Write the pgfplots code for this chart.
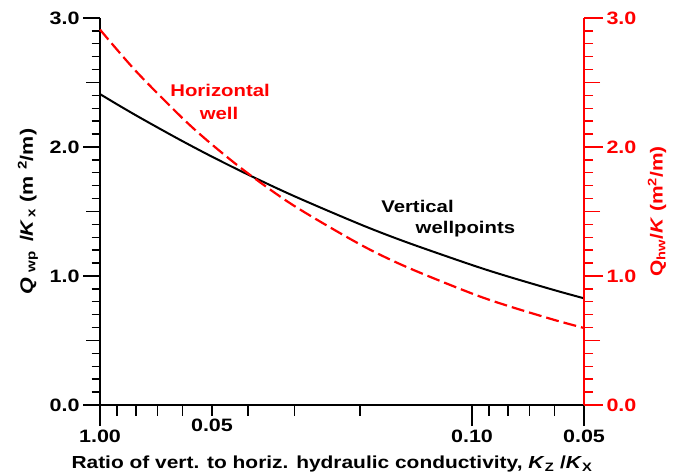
\documentclass[border=0pt]{standalone}
\usepackage{fontspec}
\setmainfont[FakeStretch=1.2]{Liberation Sans}
\usepackage{pgfplots}
\usepackage{pgfplotstable}
\pgfplotsset{compat=1.18}
\definecolor{pureRed}{RGB}{255,0,0}

\pgfplotstableread{
K Q
1.00 2.410
0.90 2.331
0.80 2.245
0.70 2.151
0.60 2.045
0.50 1.925
0.40 1.786
0.30 1.618
0.20 1.401
0.15 1.262
0.10 1.085
0.08 0.996
0.06 0.890
0.05 0.827
}\vertical

\pgfplotstableread{
K Q
1.00 2.910
0.80 2.587
0.60 2.223
0.50 2.019
0.40 1.795
0.30 1.542
0.20 1.245
0.15 1.070
0.10 0.864
0.08 0.768
0.06 0.659
0.05 0.597
}\horizontal

\newcommand{\tickfont}{\fontsize{18}{21}\selectfont\bfseries}
\newcommand{\lblfont}{\fontsize{17.5}{21}\selectfont\bfseries}
\newcommand{\annfont}{\fontsize{17}{20}\selectfont\bfseries}

\begin{document}
\begin{tikzpicture}
\useasboundingbox (-100bp,-70bp) rectangle (575bp,405bp);
% x axis and black curve
\begin{axis}[at={(0,0)}, anchor=south west, scale only axis,
  width=484bp, height=387bp,
  xmode=log, x dir=reverse, xmin=0.05, xmax=1, ymin=0, ymax=3, clip=false,
  tick align=outside, /pgf/number format/assume math mode=true,
  tick label style={font=\tickfont}, label style={font=\lblfont},
  axis line style={line width=1.4bp}, tick style={line width=1.4bp, black},
  axis x line*=bottom, axis y line=none,
  major tick length=21bp, minor tick length=10.6bp,
  xtick={1,0.1,0.05}, xticklabels={1.00,0.10,0.05},
  minor xtick={0.9,0.8,0.7,0.6,0.4,0.3,0.2,0.09,0.08,0.07,0.06},
  extra x ticks={0.5}, extra x tick labels={0.05},
  extra x tick style={major tick length=10.6bp},
  xlabel={Ratio of vert. to horiz. hydraulic conductivity, \textit{K}\textsubscript{Z} /\textit{K}\textsubscript{X}},
  xlabel style={at={(axis description cs:0.5,0)}, anchor=center, yshift=-59bp, xshift=-10bp}]
  \addplot[black, line width=2bp, smooth] table[x=K, y=Q]{\vertical};
  \node[font=\annfont, black] at (axis description cs:0.656,0.514) {Vertical};
  \node[font=\annfont, black] at (axis description cs:0.755,0.455) {wellpoints};
\end{axis}
% left y axis
\begin{axis}[at={(0,0)}, anchor=south west, scale only axis,
  width=484bp, height=387bp,
  xmode=log, x dir=reverse, xmin=0.05, xmax=1, ymin=0, ymax=3, clip=false,
  tick align=outside, /pgf/number format/assume math mode=true,
  tick label style={font=\tickfont}, label style={font=\lblfont},
  axis line style={line width=1.4bp}, tick style={line width=1.4bp, black},
  axis y line*=left, axis x line=none,
  major tick length=17bp, minor tick length=8.5bp,
  ytick={0,1,2,3}, yticklabels={0.0,1.0,2.0,3.0},
  minor ytick={0.1,0.2,0.3,0.4,0.6,0.7,0.8,0.9,1.1,1.2,1.3,1.4,1.6,1.7,1.8,1.9,2.1,2.2,2.3,2.4,2.6,2.7,2.8,2.9},
  extra y ticks={0.5,1.5,2.5}, extra y tick labels={},
  extra y tick style={major tick length=14bp},
  ylabel={\textit{Q}\,\textsubscript{\,wp} \,/\textit{K}\textsubscript{\,x} (m \textsuperscript{2}/m)},
  ylabel style={at={(axis description cs:-0.1488,0.5)}, anchor=center, font=\fontsize{18}{21}\selectfont\bfseries}]
\end{axis}
% right red y axis and red curve
\begin{axis}[at={(0,0)}, anchor=south west, scale only axis,
  width=484bp, height=387bp,
  xmode=log, x dir=reverse, xmin=0.05, xmax=1, ymin=0, ymax=3, clip=false,
  tick align=outside, /pgf/number format/assume math mode=true,
  tick label style={font=\tickfont}, label style={font=\lblfont},
  axis line style={line width=1.4bp, pureRed}, tick style={line width=1.4bp, pureRed},
  axis y line*=right, axis x line=none,
  major tick length=19bp, minor tick length=9bp,
  yticklabel style={pureRed},
  ytick={0,1,2,3}, yticklabels={0.0,1.0,2.0,3.0},
  minor ytick={0.1,0.2,0.3,0.4,0.6,0.7,0.8,0.9,1.1,1.2,1.3,1.4,1.6,1.7,1.8,1.9,2.1,2.2,2.3,2.4,2.6,2.7,2.8,2.9},
  extra y ticks={0.5,1.5,2.5}, extra y tick labels={},
  extra y tick style={major tick length=16bp},
  ylabel={Q\textsubscript{hw}/\textit{K} (m\textsuperscript{2}/m)},
  ylabel style={pureRed, at={(axis description cs:1.1508,0.5)}, anchor=center}]
  \addplot[pureRed, line width=2.2bp, dash pattern=on 13bp off 5bp, smooth] table[x=K, y=Q]{\horizontal};
  \node[font=\annfont, pureRed] at (axis description cs:0.248,0.814) {Horizontal};
  \node[font=\annfont, pureRed] at (axis description cs:0.246,0.7545) {well};
\end{axis}
\end{tikzpicture}
\end{document}
